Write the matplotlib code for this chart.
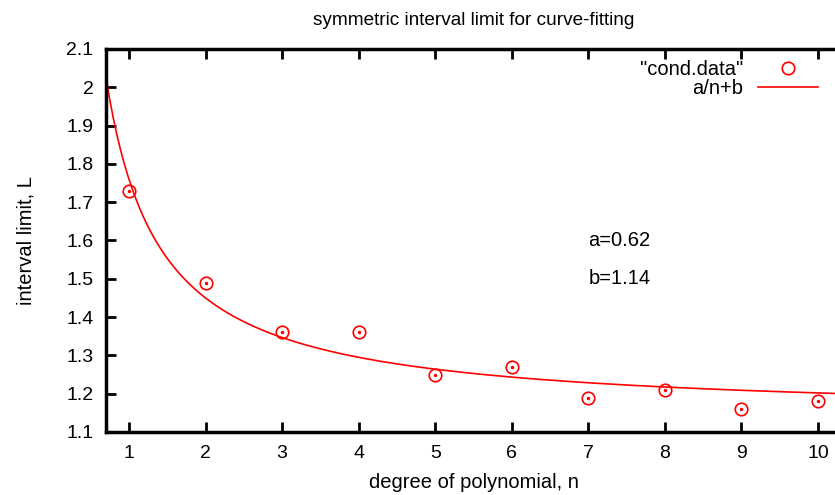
import matplotlib.pyplot as plt
import numpy as np

plt.rcParams['font.family'] = ['Liberation Sans', 'DejaVu Sans']

# measured data
n_deg = [1, 2, 3, 4, 5, 6, 7, 8, 9, 10]
L_lim = [1.73, 1.49, 1.36, 1.36, 1.25, 1.27, 1.19, 1.21, 1.16, 1.18]

# fit parameters
a_fit = 0.62
b_fit = 1.14

W, H = 835, 495
fig = plt.figure(figsize=(W / 100, H / 100), dpi=100)
# frame runs past the right edge of the picture, as in the reference
left, right, top, bottom = 106, 841, 49, 432
ax = fig.add_axes([left / W, 1 - bottom / H, (right - left) / W, (bottom - top) / H])

nn = np.linspace(0.7, 10.3, 400)
ax.plot(nn, a_fit / nn + b_fit, color='red', lw=1.2, label='a/n+b')
ax.plot(n_deg, L_lim, ls='', marker='o', ms=9, mfc='none', mec='red', mew=1.2,
        label='"cond.data"')
ax.plot(n_deg, L_lim, ls='', marker='o', ms=1.5, color='red')

ax.set_xlim(0.7, 10.3)
ax.set_ylim(1.1, 2.1)
ax.set_xticks(range(1, 11))
ax.set_yticks(np.round(np.arange(1.1, 2.11, 0.1), 1))
ax.set_yticklabels(['1.1', '1.2', '1.3', '1.4', '1.5', '1.6', '1.7', '1.8', '1.9', '2', '2.1'])
ax.tick_params(direction='in', length=7, width=2, top=True, right=False,
               labelsize=14, pad=9)
for s in ax.spines.values():
    s.set_linewidth(2.5)

ax.text(7.0, 1.6, 'a=0.62', fontsize=14.5, va='center')
ax.text(7.0, 1.5, 'b=1.14', fontsize=14.5, va='center')

ax.set_xlabel('degree of polynomial, n', fontsize=14.5, labelpad=8)
ax.set_ylabel('interval limit, L', fontsize=14.5, labelpad=22)
ax.set_title('symmetric interval limit for curve-fitting', fontsize=13.7, pad=17)

h, l = ax.get_legend_handles_labels()
ax.legend([h[1], h[0]], [l[1], l[0]], loc='upper right', markerfirst=False,
          frameon=False, fontsize=14.5, handlelength=3.0, labelspacing=0.0,
          handletextpad=0.7, borderaxespad=0,
          bbox_to_anchor=((826 - left) / (right - left), 1 - 3 / (bottom - top)))

fig.savefig('out.png', dpi=100)
